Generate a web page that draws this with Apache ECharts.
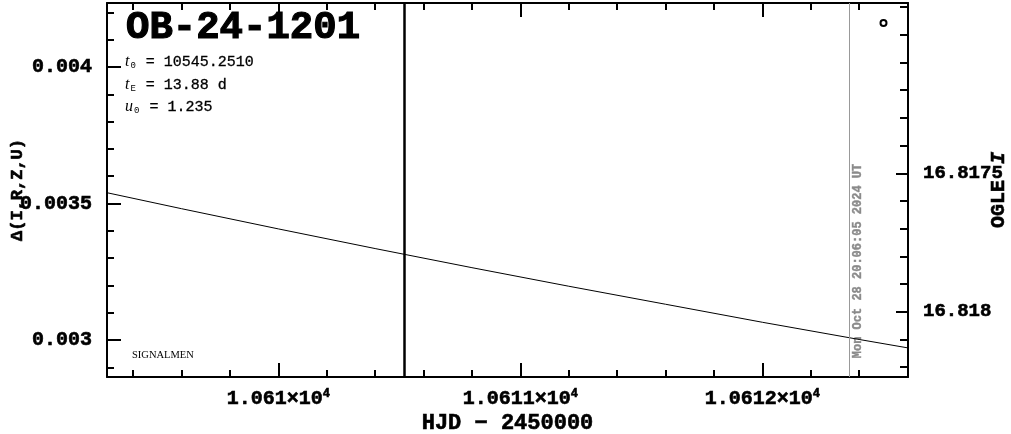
<!DOCTYPE html>
<html><head><meta charset="utf-8">
<script src="https://cdn.jsdelivr.net/npm/echarts@6/dist/echarts.min.js"></script>
<style>html,body{margin:0;padding:0;background:#fff}#c{width:1011px;height:434px}</style>
</head><body><div id="c"></div>
<script>
// ---- data ----
const hjd   = [10609.2, 10609.6, 10610.0, 10610.4, 10610.8, 10611.2, 10611.6, 10612.0, 10612.4, 10612.7];
const delta = [0.003557, 0.003481, 0.003407, 0.003335, 0.003265, 0.003197, 0.003131, 0.003065, 0.003002, 0.002956];

const xRange = [10609.292, 10612.602];
const xMajor = [10610, 10611, 10612];
const xMantissa = ['1.061', '1.0611', '1.0612'];
const xExponent = '4';
const xMinor = [10609.4, 10609.6, 10609.8, 10610.2, 10610.4, 10610.6, 10610.8, 10611.2, 10611.4, 10611.6, 10611.8, 10612.2, 10612.4];

const yLeftRange = [0.0028645, 0.0042344];
const yLeftMajor = [0.003, 0.0035, 0.004];
const yLeftLabels = ['0.003', '0.0035', '0.004'];
const yLeftMinor = [0.0029, 0.0031, 0.0032, 0.0033, 0.0034, 0.0036, 0.0037, 0.0038, 0.0039, 0.0041, 0.0042];

const yRightRange = [16.816885, 16.818236];
const yRightMajor = [16.8175, 16.818];
const yRightLabels = ['16.8175', '16.818'];
const yRightMinor = [16.8169, 16.817, 16.8171, 16.8172, 16.8173, 16.8174, 16.8176, 16.8177, 16.8178, 16.8179, 16.8181, 16.8182];

const eventName = 'OB-24-1201';
const paramSym = ['t', 't', 'u'];
const paramSub = ['0', 'E', '0'];
const paramVal = ['10545.2510', '13.88 d', '1.235'];
const nowHJD = 10610.525;
const plotDateHJD = 10612.357;
const plotDateText = 'Mon Oct 28 20:06:05 2024 UT';
const signature = 'SIGNALMEN';
const xName = 'HJD \u2212 2450000';
const yLeftName = '\u0394(I,R,Z,U)';

// ---- chart ----
const MONO = "'Liberation Mono', 'DejaVu Sans Mono', monospace";
const chart = echarts.init(document.getElementById('c'), null, {renderer: 'canvas'});
const blk = {color: '#000', width: 2};
function idx(arr, v) { let b = 0; arr.forEach((m, i) => { if (Math.abs(m - v) < Math.abs(arr[b] - v)) b = i; }); return b; }
function minorAxis(extra) {
  return Object.assign({type: 'value', axisLine: {show: false}, axisLabel: {show: false}, splitLine: {show: false},
    axisTick: {show: true, inside: true, length: 7, lineStyle: blk}}, extra);
}
const labelFont = {fontFamily: MONO, fontWeight: 'bold', fontSize: 20, color: '#000', textBorderColor: '#000', textBorderWidth: 0.6};

const option = {
  animation: false,
  backgroundColor: '#fff',
  grid: {left: 107, right: 103, top: 3, bottom: 57, containLabel: false, outerBoundsMode: 'none'},
  xAxis: [
    {type: 'value', position: 'bottom', min: xRange[0], max: xRange[1],
     axisLine: {show: true, lineStyle: blk},
     axisTick: {show: true, inside: true, length: 14, customValues: xMajor, lineStyle: blk},
     axisLabel: {show: true, customValues: xMajor, margin: 11,
       formatter: v => '{m|' + xMantissa[idx(xMajor, v)] + '\u00d710}{e|' + xExponent + '}',
       rich: {m: Object.assign({}, labelFont, {lineHeight: 22}),
              e: Object.assign({}, labelFont, {fontSize: 12, verticalAlign: 'top', lineHeight: 22, padding: [0, 0, 8, 0]})}},
     splitLine: {show: false},
     name: xName, nameLocation: 'middle', nameGap: 35, nameMoveOverlap: false,
     nameTextStyle: Object.assign({}, labelFont, {fontSize: 22})},
    minorAxis({position: 'bottom', min: xRange[0], max: xRange[1], axisTick: {show: true, inside: true, length: 7, customValues: xMinor, lineStyle: blk}}),
    {type: 'value', position: 'top', min: xRange[0], max: xRange[1],
     axisLine: {show: true, lineStyle: blk},
     axisTick: {show: true, inside: true, length: 14, customValues: xMajor, lineStyle: blk},
     axisLabel: {show: false}, splitLine: {show: false}},
    minorAxis({position: 'top', min: xRange[0], max: xRange[1], axisTick: {show: true, inside: true, length: 7, customValues: xMinor, lineStyle: blk}})
  ],
  yAxis: [
    {type: 'value', position: 'left', min: yLeftRange[0], max: yLeftRange[1],
     axisLine: {show: true, lineStyle: blk},
     axisTick: {show: true, inside: true, length: 14, customValues: yLeftMajor, lineStyle: blk},
     axisLabel: Object.assign({show: true, customValues: yLeftMajor, margin: 15, formatter: v => yLeftLabels[idx(yLeftMajor, v)]}, labelFont),
     splitLine: {show: false},
     name: yLeftName, nameLocation: 'middle', nameGap: 81, nameRotate: 90, nameMoveOverlap: false,
     nameTextStyle: Object.assign({}, labelFont, {fontSize: 17})},
    minorAxis({position: 'left', min: yLeftRange[0], max: yLeftRange[1], axisTick: {show: true, inside: true, length: 7, customValues: yLeftMinor, lineStyle: blk}}),
    {type: 'value', position: 'right', inverse: true, min: yRightRange[0], max: yRightRange[1],
     axisLine: {show: true, lineStyle: blk},
     axisTick: {show: true, inside: true, length: 12, customValues: yRightMajor, lineStyle: blk},
     axisLabel: Object.assign({show: true, customValues: yRightMajor, margin: 15, formatter: v => yRightLabels[idx(yRightMajor, v)]}, labelFont, {fontSize: 19}),
     splitLine: {show: false},
     name: 'OGLE {i|I}', nameLocation: 'middle', nameGap: 81, nameRotate: 90, nameMoveOverlap: false,
     nameTextStyle: Object.assign({}, labelFont, {fontSize: 20, rich: {i: Object.assign({}, labelFont, {fontSize: 20, fontStyle: 'italic', padding: [0, 0, 0, 4]})}})},
    minorAxis({position: 'right', inverse: true, min: yRightRange[0], max: yRightRange[1], axisTick: {show: true, inside: true, length: 8, customValues: yRightMinor, lineStyle: blk}})
  ],
  series: [{
    type: 'line', xAxisIndex: 0, yAxisIndex: 0, silent: true, clip: true,
    data: hjd.map((t, i) => [t, delta[i]]),
    symbol: 'none', showSymbol: false,
    lineStyle: {color: '#000', width: 1},
    markLine: {silent: true, symbol: ['none', 'none'], label: {show: false}, animation: false,
      data: [
        {xAxis: nowHJD, lineStyle: {color: '#000', width: 2.5, type: 'solid'}},
        {xAxis: plotDateHJD, lineStyle: {color: '#999', width: 1, type: 'solid'}}
      ]}
  }]
};
chart.setOption(option);

// annotations
const dateX = chart.convertToPixel({xAxisIndex: 0}, plotDateHJD);
const paramText = i => '{it|' + paramSym[i] + '}{sub|' + paramSub[i] + '}{n| = ' + paramVal[i] + '}';
const prich = {
  it: {fontFamily: "'Liberation Serif', serif", fontStyle: 'italic', fontSize: 16, fill: '#000', padding: [0, 1, 0, 0]},
  sub: {fontFamily: MONO, fontSize: 9, fill: '#000', verticalAlign: 'bottom', padding: [6, 1, 0, 0]},
  n: {fontFamily: MONO, fontSize: 15, fill: '#000', stroke: '#000', lineWidth: 0.3}
};
chart.setOption({graphic: [
  {type: 'text', x: 126, y: 28, silent: true,
   style: {text: eventName, fontFamily: MONO, fontWeight: 'bold', fontSize: 39, fill: '#000', stroke: '#000', lineWidth: 1.2, verticalAlign: 'middle', align: 'left'}},
  {type: 'text', x: 125, y: 62, silent: true, style: {text: paramText(0), rich: prich, verticalAlign: 'middle'}},
  {type: 'text', x: 125, y: 85, silent: true, style: {text: paramText(1), rich: prich, verticalAlign: 'middle'}},
  {type: 'text', x: 125, y: 107, silent: true, style: {text: paramText(2), rich: prich, verticalAlign: 'middle'}},
  {type: 'text', x: 132, y: 355, silent: true,
   style: {text: signature, fontFamily: "'Liberation Serif', serif", fontSize: 10.5, fill: '#000', verticalAlign: 'middle'}},
  {type: 'text', x: dateX + 9, y: 261, rotation: Math.PI / 2, silent: true,
   style: {text: plotDateText, fontFamily: MONO, fontWeight: 'bold', fontSize: 12, fill: '#8a8a8a', stroke: '#8a8a8a', lineWidth: 0.4, align: 'center', verticalAlign: 'middle'}},
  {type: 'circle', shape: {cx: 883.5, cy: 23, r: 3}, silent: true, style: {fill: 'none', stroke: '#000', lineWidth: 2}}
]});
</script></body></html>
